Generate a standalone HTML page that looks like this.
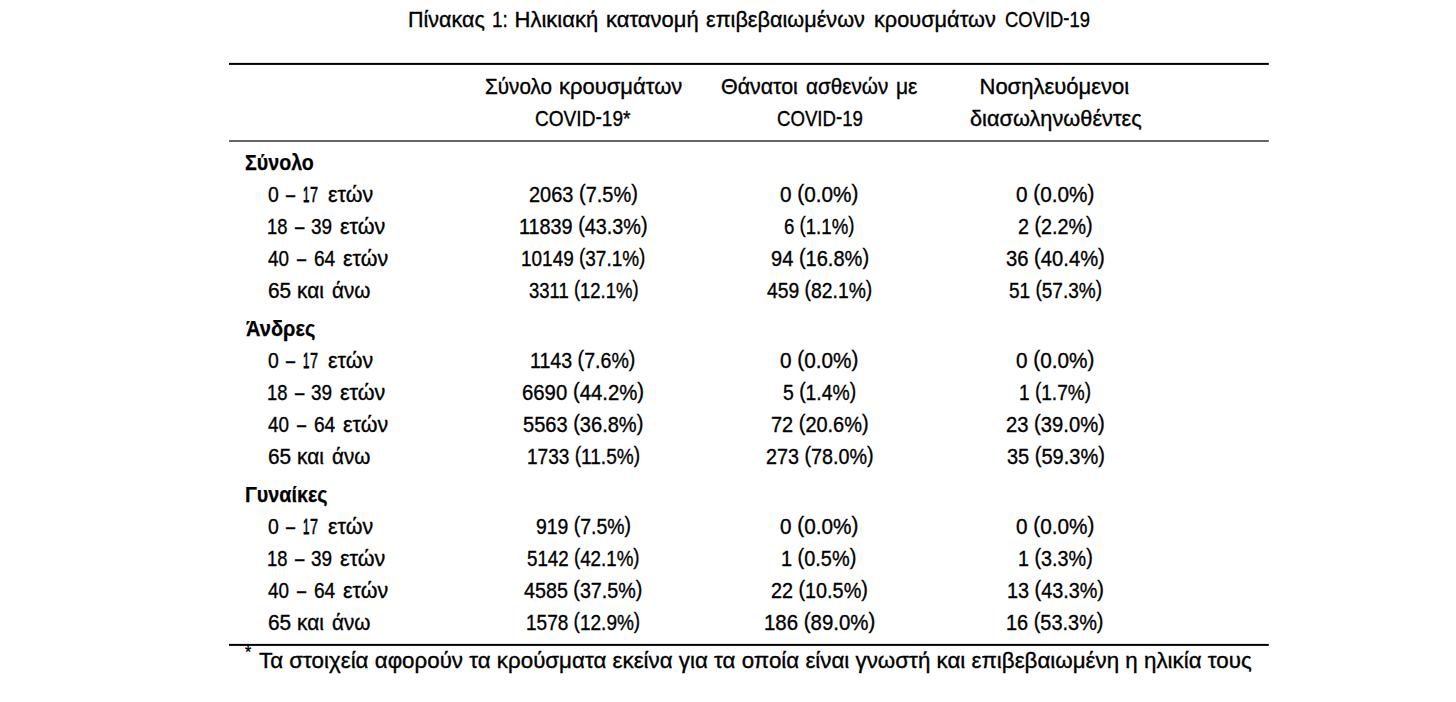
<!DOCTYPE html>
<html lang="el"><head><meta charset="utf-8"><title>Πίνακας 1</title>
<style>
html,body{margin:0;padding:0;background:#fff;}
body{width:1456px;height:702px;position:relative;overflow:hidden;font-family:"Liberation Sans",sans-serif;color:#000;}
.t{position:absolute;white-space:nowrap;font-size:22px;line-height:22px;transform-origin:0 0;-webkit-text-stroke:0.35px #000;}
.b{font-weight:bold;-webkit-text-stroke:0.25px #000;}
.p{position:relative;top:-2px;}
svg{position:absolute;left:0;top:0;}
</style></head><body>
<svg width="1456" height="702" viewBox="0 0 1456 702"><rect x="229" y="62.9" width="1039.8" height="2" fill="#000"/><rect x="229" y="140" width="1039.8" height="2" fill="#666"/><rect x="229" y="643.9" width="1039.8" height="2" fill="#000"/></svg>
<div class="t" style="left:407.77px;top:9px;transform:scaleX(0.9776)">Πίνακας</div>
<div class="t" style="left:491.64px;top:9px;transform:scaleX(0.8594)">1:</div>
<div class="t" style="left:514.50px;top:9px;transform:scaleX(1.0000)">Ηλικιακή</div>
<div class="t" style="left:606.00px;top:9px;transform:scaleX(1.0000)">κατανομή</div>
<div class="t" style="left:706.25px;top:9px;transform:scaleX(0.9846)">επιβεβαιωμένων</div>
<div class="t" style="left:874.01px;top:9px;transform:scaleX(0.9877)">κρουσμάτων</div>
<div class="t" style="left:1004.50px;top:9px;transform:scaleX(0.8366)">COVID<span class="p">-</span>19</div>
<div class="t" style="left:484.50px;top:76px;transform:scaleX(0.9401)">Σύνολο</div>
<div class="t" style="left:559.00px;top:76px;transform:scaleX(1.0000)">κρουσμάτων</div>
<div class="t" style="left:535.00px;top:108px;transform:scaleX(0.8671)">COVID<span class="p">-</span>19*</div>
<div class="t" style="left:720.60px;top:76px;transform:scaleX(0.9722)">Θάνατοι</div>
<div class="t" style="left:805.60px;top:76px;transform:scaleX(0.9409)">ασθενών</div>
<div class="t" style="left:896.45px;top:76px;transform:scaleX(0.9545)">με</div>
<div class="t" style="left:776.50px;top:108px;transform:scaleX(0.8465)">COVID<span class="p">-</span>19</div>
<div class="t" style="left:979.50px;top:76px;transform:scaleX(1.0000)">Νοσηλευόμενοι</div>
<div class="t" style="left:969.50px;top:108px;transform:scaleX(0.9885)">διασωληνωθέντες</div>
<div class="t b" style="left:245.25px;top:152px;transform:scaleX(0.8929)">Σύνολο</div>
<div class="t" style="left:267.70px;top:184px;transform:scaleX(0.8833)">0</div>
<div class="t" style="left:285.74px;top:184px;transform:scaleX(0.7429)">–</div>
<div class="t" style="left:302.78px;top:184px;-webkit-text-stroke:0.9px #000;transform:scaleX(0.5182)">1</div>
<div class="t" style="left:310.40px;top:184px;-webkit-text-stroke:0.6px #000;transform:scaleX(0.6583)">7</div>
<div class="t" style="left:327.60px;top:184px;transform:scaleX(0.9739)">ετών</div>
<div class="t" style="left:529.40px;top:184px;transform:scaleX(0.9076)">2063 <span class="p">(</span>7.5%<span class="p">)</span></div>
<div class="t" style="left:780.17px;top:184px;transform:scaleX(0.9428)">0 <span class="p">(</span>0.0%<span class="p">)</span></div>
<div class="t" style="left:1016.17px;top:184px;transform:scaleX(0.9428)">0 <span class="p">(</span>0.0%<span class="p">)</span></div>
<div class="t" style="left:267.07px;top:216px;transform:scaleX(0.8348)">18</div>
<div class="t" style="left:295.06px;top:216px;transform:scaleX(0.7643)">–</div>
<div class="t" style="left:311.40px;top:216px;transform:scaleX(0.8625)">39</div>
<div class="t" style="left:340.10px;top:216px;transform:scaleX(0.9783)">ετών</div>
<div class="t" style="left:519.00px;top:216px;transform:scaleX(0.9007)">11839 <span class="p">(</span>43.3%<span class="p">)</span></div>
<div class="t" style="left:784.17px;top:216px;transform:scaleX(0.8464)">6 <span class="p">(</span>1.1%<span class="p">)</span></div>
<div class="t" style="left:1018.05px;top:216px;transform:scaleX(0.8976)">2 <span class="p">(</span>2.2%<span class="p">)</span></div>
<div class="t" style="left:267.90px;top:248px;transform:scaleX(0.8560)">40</div>
<div class="t" style="left:297.44px;top:248px;transform:scaleX(0.7429)">–</div>
<div class="t" style="left:314.00px;top:248px;transform:scaleX(0.8680)">64</div>
<div class="t" style="left:343.40px;top:248px;transform:scaleX(0.9739)">ετών</div>
<div class="t" style="left:520.91px;top:248px;transform:scaleX(0.8619)">10149 <span class="p">(</span>37.1%<span class="p">)</span></div>
<div class="t" style="left:770.55px;top:248px;transform:scaleX(0.9112)">94 <span class="p">(</span>16.8%<span class="p">)</span></div>
<div class="t" style="left:1006.17px;top:248px;transform:scaleX(0.9182)">36 <span class="p">(</span>40.4%<span class="p">)</span></div>
<div class="t" style="left:267.80px;top:280px;transform:scaleX(0.9475)">65 και</div>
<div class="t" style="left:331.80px;top:280px;transform:scaleX(0.9390)">άνω</div>
<div class="t" style="left:528.77px;top:280px;transform:scaleX(0.8404)">3311 <span class="p">(</span>12.1%<span class="p">)</span></div>
<div class="t" style="left:767.05px;top:280px;transform:scaleX(0.8782)">459 <span class="p">(</span>82.1%<span class="p">)</span></div>
<div class="t" style="left:1009.05px;top:280px;transform:scaleX(0.8645)">51 <span class="p">(</span>57.3%<span class="p">)</span></div>
<div class="t b" style="left:246.00px;top:318px;transform:scaleX(0.9112)">Άνδρες</div>
<div class="t" style="left:267.70px;top:350px;transform:scaleX(0.8833)">0</div>
<div class="t" style="left:285.74px;top:350px;transform:scaleX(0.7429)">–</div>
<div class="t" style="left:302.78px;top:350px;-webkit-text-stroke:0.9px #000;transform:scaleX(0.5182)">1</div>
<div class="t" style="left:310.40px;top:350px;-webkit-text-stroke:0.6px #000;transform:scaleX(0.6583)">7</div>
<div class="t" style="left:327.60px;top:350px;transform:scaleX(0.9739)">ετών</div>
<div class="t" style="left:530.38px;top:350px;transform:scaleX(0.8910)">1143 <span class="p">(</span>7.6%<span class="p">)</span></div>
<div class="t" style="left:780.17px;top:350px;transform:scaleX(0.9428)">0 <span class="p">(</span>0.0%<span class="p">)</span></div>
<div class="t" style="left:1016.17px;top:350px;transform:scaleX(0.9428)">0 <span class="p">(</span>0.0%<span class="p">)</span></div>
<div class="t" style="left:267.07px;top:382px;transform:scaleX(0.8348)">18</div>
<div class="t" style="left:295.06px;top:382px;transform:scaleX(0.7643)">–</div>
<div class="t" style="left:311.40px;top:382px;transform:scaleX(0.8625)">39</div>
<div class="t" style="left:340.10px;top:382px;transform:scaleX(0.9783)">ετών</div>
<div class="t" style="left:522.40px;top:382px;transform:scaleX(0.9242)">6690 <span class="p">(</span>44.2%<span class="p">)</span></div>
<div class="t" style="left:782.80px;top:382px;transform:scaleX(0.8795)">5 <span class="p">(</span>1.4%<span class="p">)</span></div>
<div class="t" style="left:1018.93px;top:382px;transform:scaleX(0.8659)">1 <span class="p">(</span>1.7%<span class="p">)</span></div>
<div class="t" style="left:267.90px;top:414px;transform:scaleX(0.8560)">40</div>
<div class="t" style="left:297.44px;top:414px;transform:scaleX(0.7429)">–</div>
<div class="t" style="left:314.00px;top:414px;transform:scaleX(0.8680)">64</div>
<div class="t" style="left:343.40px;top:414px;transform:scaleX(0.9739)">ετών</div>
<div class="t" style="left:523.27px;top:414px;transform:scaleX(0.9110)">5563 <span class="p">(</span>36.8%<span class="p">)</span></div>
<div class="t" style="left:770.80px;top:414px;transform:scaleX(0.9065)">72 <span class="p">(</span>20.6%<span class="p">)</span></div>
<div class="t" style="left:1006.17px;top:414px;transform:scaleX(0.9182)">23 <span class="p">(</span>39.0%<span class="p">)</span></div>
<div class="t" style="left:267.80px;top:446px;transform:scaleX(0.9475)">65 και</div>
<div class="t" style="left:331.80px;top:446px;transform:scaleX(0.9390)">άνω</div>
<div class="t" style="left:526.66px;top:446px;transform:scaleX(0.8663)">1733 <span class="p">(</span>11.5%<span class="p">)</span></div>
<div class="t" style="left:765.92px;top:446px;transform:scaleX(0.8971)">273 <span class="p">(</span>78.0%<span class="p">)</span></div>
<div class="t" style="left:1006.67px;top:446px;transform:scaleX(0.9089)">35 <span class="p">(</span>59.3%<span class="p">)</span></div>
<div class="t b" style="left:245.00px;top:484px;transform:scaleX(0.8978)">Γυναίκες</div>
<div class="t" style="left:267.70px;top:516px;transform:scaleX(0.8833)">0</div>
<div class="t" style="left:285.74px;top:516px;transform:scaleX(0.7429)">–</div>
<div class="t" style="left:302.78px;top:516px;-webkit-text-stroke:0.9px #000;transform:scaleX(0.5182)">1</div>
<div class="t" style="left:310.40px;top:516px;-webkit-text-stroke:0.6px #000;transform:scaleX(0.6583)">7</div>
<div class="t" style="left:327.60px;top:516px;transform:scaleX(0.9739)">ετών</div>
<div class="t" style="left:536.15px;top:516px;transform:scaleX(0.8832)">919 <span class="p">(</span>7.5%<span class="p">)</span></div>
<div class="t" style="left:780.17px;top:516px;transform:scaleX(0.9428)">0 <span class="p">(</span>0.0%<span class="p">)</span></div>
<div class="t" style="left:1016.17px;top:516px;transform:scaleX(0.9428)">0 <span class="p">(</span>0.0%<span class="p">)</span></div>
<div class="t" style="left:267.07px;top:548px;transform:scaleX(0.8348)">18</div>
<div class="t" style="left:295.06px;top:548px;transform:scaleX(0.7643)">–</div>
<div class="t" style="left:311.40px;top:548px;transform:scaleX(0.8625)">39</div>
<div class="t" style="left:340.10px;top:548px;transform:scaleX(0.9783)">ετών</div>
<div class="t" style="left:527.15px;top:548px;transform:scaleX(0.8523)">5142 <span class="p">(</span>42.1%<span class="p">)</span></div>
<div class="t" style="left:781.27px;top:548px;transform:scaleX(0.9055)">1 <span class="p">(</span>0.5%<span class="p">)</span></div>
<div class="t" style="left:1017.53px;top:548px;transform:scaleX(0.8994)">1 <span class="p">(</span>3.3%<span class="p">)</span></div>
<div class="t" style="left:267.90px;top:580px;transform:scaleX(0.8560)">40</div>
<div class="t" style="left:297.44px;top:580px;transform:scaleX(0.7429)">–</div>
<div class="t" style="left:314.00px;top:580px;transform:scaleX(0.8680)">64</div>
<div class="t" style="left:343.40px;top:580px;transform:scaleX(0.9739)">ετών</div>
<div class="t" style="left:524.27px;top:580px;transform:scaleX(0.8958)">4585 <span class="p">(</span>37.5%<span class="p">)</span></div>
<div class="t" style="left:771.17px;top:580px;transform:scaleX(0.8995)">22 <span class="p">(</span>10.5%<span class="p">)</span></div>
<div class="t" style="left:1006.65px;top:580px;transform:scaleX(0.9009)">13 <span class="p">(</span>43.3%<span class="p">)</span></div>
<div class="t" style="left:267.80px;top:612px;transform:scaleX(0.9475)">65 και</div>
<div class="t" style="left:331.80px;top:612px;transform:scaleX(0.9390)">άνω</div>
<div class="t" style="left:525.91px;top:612px;transform:scaleX(0.8645)">1578 <span class="p">(</span>12.9%<span class="p">)</span></div>
<div class="t" style="left:763.62px;top:612px;transform:scaleX(0.9280)">186 <span class="p">(</span>89.0%<span class="p">)</span></div>
<div class="t" style="left:1006.39px;top:612px;transform:scaleX(0.9057)">16 <span class="p">(</span>53.3%<span class="p">)</span></div>
<div class="t" style="left:259.30px;top:650px;transform:scaleX(1.0150)">Τα στοιχεία αφορούν τα κρούσματα εκείνα για τα οποία είναι γνωστή και επιβεβαιωμένη η ηλικία τους</div>
<div class="t" style="left:245.1px;top:645px;font-size:16px;line-height:16px">*</div>
</body></html>
